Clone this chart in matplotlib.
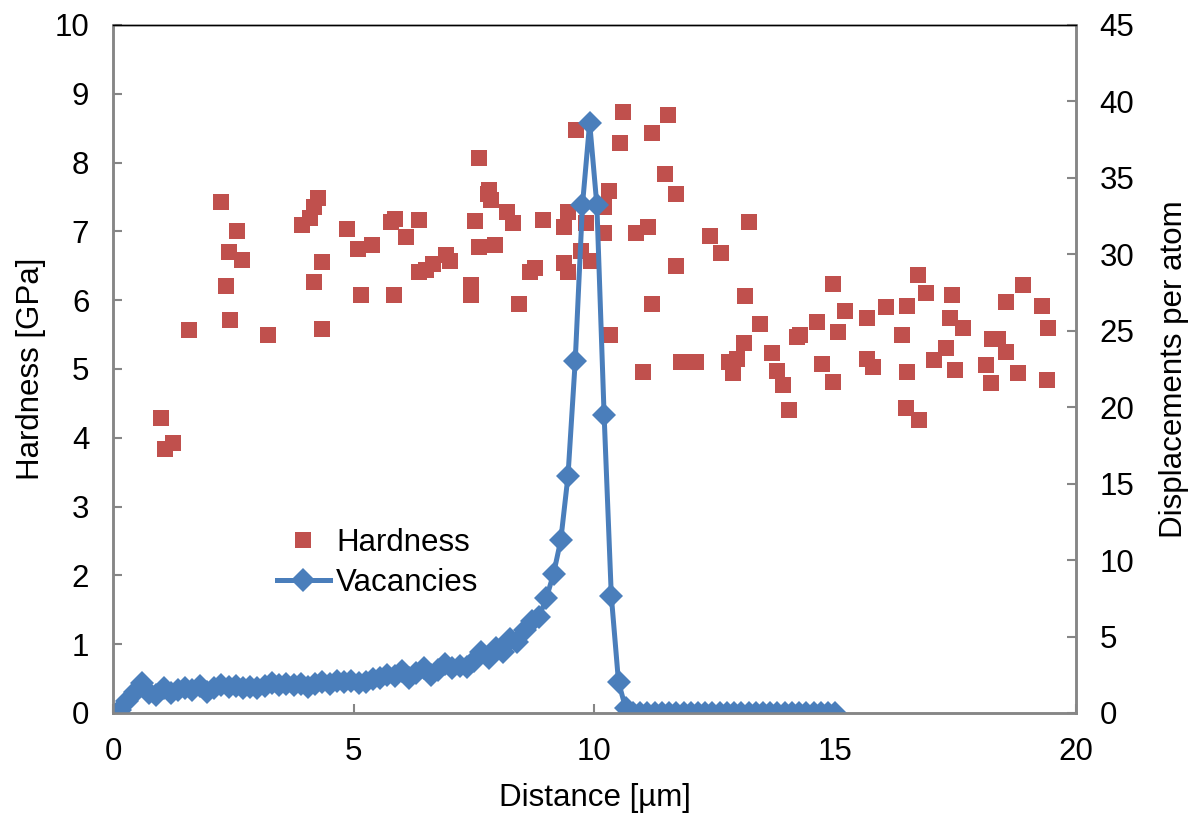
import matplotlib
matplotlib.use("Agg")
import matplotlib.pyplot as plt
from matplotlib.lines import Line2D

plt.rcParams['font.family'] = ['Liberation Sans', 'DejaVu Sans']

# hardness measurements (distance in um, hardness in GPa)
hardness_x = [1.00, 1.08, 1.25, 1.58, 2.25, 2.58, 2.40, 2.68, 2.35, 2.43,
              3.22, 3.92, 4.09, 4.17, 4.26, 4.35, 4.18, 4.35, 4.85, 5.09,
              5.38, 5.15, 5.77, 5.85, 6.36, 6.09, 5.84, 6.36, 6.51, 6.65,
              6.91, 6.99, 7.44, 7.44, 7.51, 7.60, 7.81, 7.78, 7.86, 7.60,
              7.94, 8.18, 8.30, 8.94, 8.67, 8.77, 8.44, 9.36, 9.44, 9.36,
              9.44, 9.61, 9.83, 9.71, 9.93, 10.60, 10.53, 10.30, 10.19, 10.20,
              10.32, 11.52, 11.19, 11.47, 11.70, 10.87, 11.11, 11.70, 11.19, 11.00,
              11.80, 12.11, 13.20, 12.40, 12.63, 13.12, 13.44, 13.10, 12.79, 12.95,
              12.87, 13.69, 13.80, 13.91, 14.04, 14.21, 14.27, 14.62, 14.72, 14.95,
              15.05, 14.95, 15.20, 15.67, 15.67, 15.79, 16.05, 16.50, 16.38, 16.50,
              16.46, 16.73, 16.71, 16.88, 17.05, 17.31, 17.39, 17.43, 17.49, 17.66,
              18.14, 18.24, 18.25, 18.38, 18.54, 18.55, 18.89, 18.79, 19.30, 19.42,
              19.39]
hardness_y = [4.29, 3.83, 3.92, 5.56, 7.43, 7.00, 6.70, 6.59, 6.21, 5.71,
              5.50, 7.09, 7.20, 7.36, 7.48, 6.55, 6.26, 5.58, 7.04, 6.75,
              6.80, 6.08, 7.14, 7.18, 7.16, 6.92, 6.07, 6.41, 6.44, 6.52,
              6.66, 6.57, 6.22, 6.08, 7.15, 8.06, 7.60, 7.55, 7.46, 6.77,
              6.80, 7.28, 7.12, 7.16, 6.41, 6.46, 5.95, 7.06, 7.28, 6.54,
              6.41, 8.47, 7.12, 6.72, 6.57, 8.73, 8.29, 7.59, 7.36, 6.97,
              5.50, 8.69, 8.43, 7.84, 7.55, 6.98, 7.07, 6.49, 5.94, 4.96,
              5.10, 5.10, 7.13, 6.93, 6.69, 6.06, 5.65, 5.38, 5.10, 5.15,
              4.94, 5.23, 4.97, 4.77, 4.40, 5.47, 5.49, 5.68, 5.07, 4.81,
              5.54, 6.24, 5.84, 5.74, 5.15, 5.03, 5.90, 5.92, 5.50, 4.96,
              4.43, 4.26, 6.37, 6.11, 5.13, 5.31, 5.74, 6.07, 4.99, 5.59,
              5.06, 4.79, 5.43, 5.44, 5.25, 5.97, 6.22, 4.94, 5.92, 5.59,
              4.84]

# SRIM damage profile, 0.15 um bins
vac_x = [0.15, 0.30, 0.45, 0.60, 0.75, 0.90, 1.05, 1.20, 1.35, 1.50,
         1.65, 1.80, 1.95, 2.10, 2.25, 2.40, 2.55, 2.70, 2.85, 3.00,
         3.15, 3.30, 3.45, 3.60, 3.75, 3.90, 4.05, 4.20, 4.35, 4.50,
         4.65, 4.80, 4.95, 5.10, 5.25, 5.40, 5.55, 5.70, 5.85, 6.00,
         6.15, 6.30, 6.45, 6.60, 6.75, 6.90, 7.05, 7.20, 7.35, 7.50,
         7.65, 7.80, 7.95, 8.10, 8.25, 8.40, 8.55, 8.70, 8.85, 9.00,
         9.15, 9.30, 9.45, 9.60, 9.75, 9.90, 10.05, 10.20, 10.35, 10.50,
         10.65, 10.80, 10.95, 11.10, 11.25, 11.40, 11.55, 11.70, 11.85, 12.00,
         12.15, 12.30, 12.45, 12.60, 12.75, 12.90, 13.05, 13.20, 13.35, 13.50,
         13.65, 13.80, 13.95, 14.10, 14.25, 14.40, 14.55, 14.70, 14.85, 15.00]
vac_dpa = [0.2, 0.8, 1.4, 1.95, 1.3, 1.2, 1.6, 1.3, 1.5, 1.6,
           1.5, 1.75, 1.4, 1.6, 1.8, 1.7, 1.75, 1.6, 1.7, 1.6,
           1.75, 1.95, 1.8, 1.9, 1.85, 1.9, 1.7, 1.9, 2.0, 1.9,
           2.1, 2.0, 2.1, 1.95, 2.05, 2.2, 2.3, 2.5, 2.4, 2.75,
           2.3, 2.6, 2.95, 2.5, 2.8, 3.2, 2.95, 3.1, 3.0, 3.4,
           4.0, 3.6, 4.25, 4.0, 4.85, 4.65, 5.4, 6.0, 6.3, 7.5,
           9.1, 11.3, 15.5, 23.0, 33.2, 38.6, 33.2, 19.5, 7.65, 2.0,
           0.3, 0.0, 0.0, 0.0, 0.0, 0.0, 0.0, 0.0, 0.0, 0.0,
           0.0, 0.0, 0.0, 0.0, 0.0, 0.0, 0.0, 0.0, 0.0, 0.0,
           0.0, 0.0, 0.0, 0.0, 0.0, 0.0, 0.0, 0.0, 0.0, 0.0]

red = '#C0504D'
blue = '#4A7EBB'
grey = '#868686'
fs = 22.5

fig = plt.figure(figsize=(11.93, 8.15), dpi=100)
ax1 = fig.add_axes([0.0947, 0.1252, 0.8072, 0.8442])
ax2 = ax1.twinx()

ax1.plot(hardness_x, hardness_y, 's', color=red, markersize=11.5,
         markeredgewidth=0, linestyle='none')
ax2.plot(vac_x, vac_dpa, '-D', color=blue, linewidth=3.6, markersize=12,
         markeredgewidth=0)

ax1.set_xlim(0, 20)
ax1.set_ylim(0, 10)
ax2.set_ylim(0, 45)
ax1.set_xticks(range(0, 21, 5))
ax1.set_yticks(range(0, 11))
ax2.set_yticks(range(0, 46, 5))

for ax in (ax1, ax2):
    for side in ('left', 'right', 'bottom'):
        ax.spines[side].set_color(grey)
        ax.spines[side].set_linewidth(1.8)
    ax.spines['top'].set_color('black')
    ax.spines['top'].set_linewidth(1.0)
    ax.tick_params(direction='in', length=6.5, width=1.5, color=grey,
                   labelsize=fs, pad=17)

ax1.set_xlabel('Distance [µm]', fontsize=fs, labelpad=12)
ax1.set_ylabel('Hardness [GPa]', fontsize=fs, labelpad=6)
ax2.set_ylabel('Displacements per atom', fontsize=fs, labelpad=18)

handles = [Line2D([], [], marker='s', color=red, linestyle='none',
                  markersize=11.5, markeredgewidth=0),
           Line2D([], [], marker='D', color=blue, linewidth=3.6,
                  markersize=12, markeredgewidth=0)]
ax2.legend(handles, ['Hardness', 'Vacancies'], loc='center',
           bbox_to_anchor=(0.275, 0.218), frameon=False, fontsize=fs,
           handlelength=1.7, handletextpad=0.2, labelspacing=0.3)

fig.savefig('out.png', dpi=100)
